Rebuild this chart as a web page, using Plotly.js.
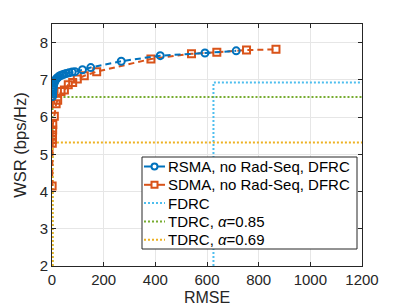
<!DOCTYPE html>
<html><head><meta charset="utf-8">
<script src="https://cdn.plot.ly/plotly-3.0.1.min.js"></script>
<style>html,body{margin:0;padding:0;background:#fff}#chart{width:399px;height:308px}</style>
</head><body><div id="chart"></div>
<script>
const rsmaX = [2, 2.5, 3, 4, 5, 6, 8, 10, 13, 16, 20, 25, 31, 38, 46, 55, 66, 78, 89, 118, 150, 268, 419, 592, 713];
const rsmaY = [6.55, 6.62, 6.68, 6.75, 6.81, 6.86, 6.91, 6.95, 6.99, 7.02, 7.05, 7.08, 7.11, 7.13, 7.15, 7.17, 7.19, 7.21, 7.22, 7.27, 7.33, 7.50, 7.65, 7.72, 7.78];
const sdmaX = [0.5, 1, 1.5, 2, 2.5, 3, 9, 16, 22, 35, 48, 63, 80, 98, 125, 173, 383, 540, 638, 753, 867];
const sdmaY = [4.15, 5.30, 5.40, 5.52, 5.65, 5.80, 6.02, 6.36, 6.45, 6.69, 6.73, 6.87, 6.93, 7.02, 7.11, 7.22, 7.56, 7.70, 7.74, 7.80, 7.82];
const fdrcX = [625, 625, 1200];
const fdrcY = [2, 6.93, 6.93];
const tdrc85X = [2, 2, 1200];
const tdrc85Y = [2, 6.54, 6.54];
const tdrc69X = [2, 2, 1200];
const tdrc69Y = [2, 5.32, 5.32];
const xTicks = [0, 200, 400, 600, 800, 1000, 1200];
const yTicks = [2, 3, 4, 5, 6, 7, 8];
const names = ['RSMA, no Rad-Seq, DFRC', 'SDMA, no Rad-Seq, DFRC', 'FDRC', 'TDRC, <i>α</i>=0.85', 'TDRC, <i>α</i>=0.69'];
const colors = ['#0072BD', '#D95319', '#4DBEEE', '#77AC30', '#EDB120'];

const DOT = '2px,2px';
const DASH = '6px,4px';

const traces = [
  {x: fdrcX, y: fdrcY, name: names[2], mode: 'lines', line: {color: colors[2], width: 2, dash: DOT}},
  {x: tdrc85X, y: tdrc85Y, name: names[3], mode: 'lines', line: {color: colors[3], width: 2, dash: DOT}},
  {x: tdrc69X, y: tdrc69Y, name: names[4], mode: 'lines', line: {color: colors[4], width: 2, dash: DOT}},
  {x: sdmaX, y: sdmaY, name: names[1], mode: 'lines+markers', line: {color: colors[1], width: 2, dash: DASH},
   marker: {symbol: 'square-open', size: 7, line: {color: colors[1], width: 2}}},
  {x: rsmaX, y: rsmaY, name: names[0], mode: 'lines+markers', line: {color: colors[0], width: 2, dash: DASH},
   marker: {symbol: 'circle-open', size: 7, line: {color: colors[0], width: 2}}}
];

// plot area in pixels (for legend placement)
const L = 52, R = 362, T = 24, B = 266;
const px = v => (v - L) / (R - L);
const py = v => (B - v) / (B - T);

const shapes = [];
const annotations = [];
// legend box
shapes.push({type: 'rect', xref: 'paper', yref: 'paper', x0: px(142), x1: px(357), y0: py(249), y1: py(157),
  fillcolor: '#fff', line: {color: '#262626', width: 1}, layer: 'above'});
const rowY = [166.5, 184.8, 203.1, 221.4, 239.7];
const dashes = [DASH, DASH, DOT, DOT, DOT];
for (let i = 0; i < 5; i++) {
  shapes.push({type: 'line', xref: 'paper', yref: 'paper', x0: px(144), x1: px(165), y0: py(rowY[i]), y1: py(rowY[i]),
    line: {color: colors[i], width: 2, dash: i < 2 ? 'solid' : DOT}, layer: 'above'});
  if (i === 0) {
    shapes.push({type: 'circle', xref: 'paper', yref: 'paper', xsizemode: 'pixel', ysizemode: 'pixel',
      xanchor: px(154.5), yanchor: py(rowY[i]), x0: -3, x1: 3, y0: -3, y1: 3,
      fillcolor: '#fff', line: {color: colors[i], width: 2}, layer: 'above'});
  } else if (i === 1) {
    shapes.push({type: 'rect', xref: 'paper', yref: 'paper', xsizemode: 'pixel', ysizemode: 'pixel',
      xanchor: px(154.5), yanchor: py(rowY[i]), x0: -3, x1: 3, y0: -3, y1: 3,
      fillcolor: '#fff', line: {color: colors[i], width: 2}, layer: 'above'});
  }
  annotations.push({xref: 'paper', yref: 'paper', x: px(166), y: py(rowY[i]), xanchor: 'left', yanchor: 'middle',
    text: names[i], showarrow: false, font: {family: 'Liberation Sans, Arial, sans-serif', size: 15, color: '#000'}});
}

const axisCommon = {
  showline: true, linecolor: '#262626', linewidth: 1, mirror: 'ticks',
  ticks: 'inside', ticklen: 4, tickcolor: '#262626',
  showgrid: true, gridcolor: '#e6e6e6', gridwidth: 1, zeroline: false,
  tickfont: {family: 'Liberation Sans, Arial, sans-serif', size: 15, color: '#262626'}
};

const layout = {
  width: 399, height: 308,
  margin: {l: L, r: 399 - R, t: T, b: 308 - B},
  paper_bgcolor: '#fff', plot_bgcolor: '#fff',
  font: {family: 'Liberation Sans, Arial, sans-serif', color: '#262626'},
  xaxis: Object.assign({}, axisCommon, {range: [0, 1200], tickvals: xTicks, ticktext: xTicks.map(String),
    title: {text: 'RMSE', font: {size: 16, color: '#262626'}, standoff: 4}}),
  yaxis: Object.assign({}, axisCommon, {range: [2, 8.5], tickvals: yTicks, ticktext: yTicks.map(String),
    title: {text: 'WSR (bps/Hz)', font: {size: 16.5, color: '#262626'}, standoff: 8}}),
  showlegend: false,
  shapes: shapes,
  annotations: annotations
};

Plotly.newPlot('chart', traces, layout, {staticPlot: true, displayModeBar: false});
</script></body></html>
